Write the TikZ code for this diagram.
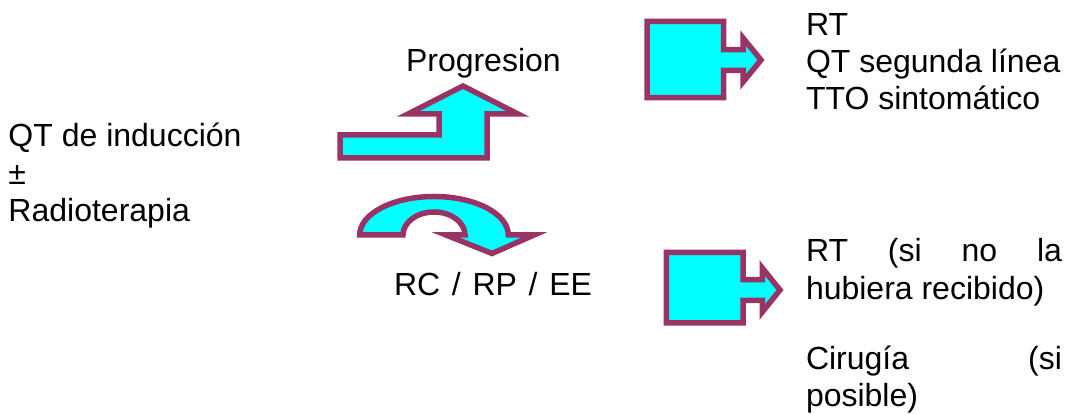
\documentclass[tikz,border=0pt]{standalone}
\usepackage{fontspec}
\setmainfont{Liberation Sans}
\definecolor{plum}{HTML}{993366}
\definecolor{aqua}{HTML}{00FFFF}
\tikzset{
  shapearrow/.style={draw=plum, fill=aqua, line width=5.5pt, line join=miter, miter limit=10},
  txt/.style={anchor=base west, inner sep=0pt, outer sep=0pt, font=\fontsize{32}{38}\selectfont},
}
\begin{document}
\begin{tikzpicture}[x=1pt, y=1pt]
\useasboundingbox (0,0) rectangle (1071,414);

% left column
\node[txt] (qt)    at (8.5,267)   {QT de inducción};
\node[txt] (pm)    at (8.5,229.5) {±};
\node[txt] (radio) at (8.5,192)   {Radioterapia};

% bent-up arrow towards progression
\path[shapearrow] (340,279) -- (439,279) -- (439,300) -- (408,300)
  -- (463,328) -- (518,300) -- (487,300) -- (487,256) -- (340,256) -- cycle;
\node[txt] (prog) at (406,342) {Progresion};

% curved arrow towards response
\path[shapearrow] (359.7,179)
  arc[start angle=180, end angle=0, x radius=74.3, y radius=38.5]
  -- (534,179) -- (492,160.5) -- (446,179) -- (465,179)
  arc[start angle=0, end angle=180, x radius=31, y radius=23] -- cycle;
\node[txt] (resp) at (394,118) {\makebox[198pt][s]{RC / RP / EE}};

% upper callout box
\path[shapearrow] (647,392.7) -- (723.7,392.7) -- (723.7,364.3) -- (743,364.3)
  -- (743,376) -- (761,354) -- (743,332) -- (743,343.7) -- (723.7,343.7)
  -- (723.7,316.3) -- (647,316.3) -- cycle;
\node[txt] (t1) at (806,378) {RT};
\node[txt] (t2) at (806,341) {QT segunda línea};
\node[txt] (t3) at (806,304) {TTO sintomático};

% lower callout box
\path[shapearrow] (666.3,161.7) -- (743,161.7) -- (743,134.3) -- (762.3,134.3)
  -- (762.3,146) -- (780,124) -- (762.3,102) -- (762.3,113.7) -- (743,113.7)
  -- (743,91) -- (666.3,91) -- cycle;
\node[txt] (b1) at (806,152) {\makebox[256pt][s]{RT (si no la}};
\node[txt] (b2) at (806,114) {hubiera recibido)};
\node[txt] (b3) at (806,44)  {\makebox[256pt][s]{Cirugía (si}};
\node[txt] (b4) at (806,7)   {posible)};
\end{tikzpicture}
\end{document}
